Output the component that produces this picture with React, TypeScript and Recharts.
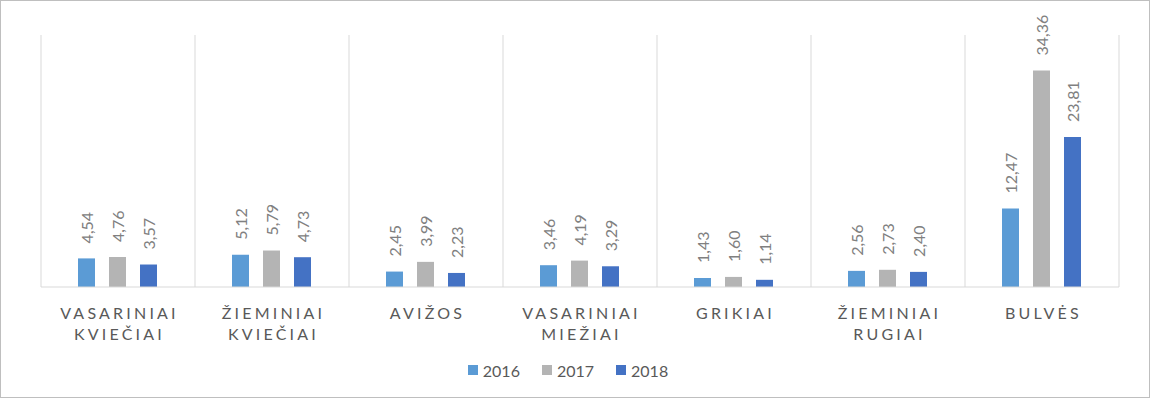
import React from 'react';
import { BarChart, Bar, XAxis, YAxis, CartesianGrid, Legend, LabelList } from 'recharts';

const categories = ['VASARINIAI KVIEČIAI', 'ŽIEMINIAI KVIEČIAI', 'AVIŽOS', 'VASARINIAI MIEŽIAI', 'GRIKIAI', 'ŽIEMINIAI RUGIAI', 'BULVĖS'];
const values2016 = [4.54, 5.12, 2.45, 3.46, 1.43, 2.56, 12.47];
const values2017 = [4.76, 5.79, 3.99, 4.19, 1.6, 2.73, 34.36];
const values2018 = [3.57, 4.73, 2.23, 3.29, 1.14, 2.4, 23.81];
const seriesNames = ['2016', '2017', '2018'];
const seriesColors = ['#5B9BD5', '#B4B4B4', '#4472C4'];

const data = categories.map((c, i) => ({
  name: c,
  s2016: values2016[i],
  s2017: values2017[i],
  s2018: values2018[i],
}));

const FONT = 'Lato, "Open Sans", sans-serif';

const fmt = (v: number) => v.toFixed(2).replace('.', ',');

const RotLabel = (props: any) => {
  const { x, y, width, value } = props;
  const cx = x + width / 2;
  const ty = y - 15;
  return (
    <text
      x={cx}
      y={ty}
      transform={`rotate(-90, ${cx}, ${ty})`}
      textAnchor="start"
      dominantBaseline="central"
      fill="#808080"
      fontSize={16}
      fontFamily={FONT}
    >
      {fmt(value)}
    </text>
  );
};

const Tick = (props: any) => {
  const { x, y, payload } = props;
  const words = String(payload.value).split(' ');
  return (
    <g>
      {words.map((w, i) => (
        <text
          key={i}
          x={x + 1.5}
          y={y + 24 + i * 21}
          textAnchor="middle"
          fill="#595959"
          fontSize={16}
          fontFamily={FONT}
          letterSpacing={3.2}
        >
          {w}
        </text>
      ))}
    </g>
  );
};

const LegendContent = () => (
  <div
    style={{
      display: 'flex',
      justifyContent: 'center',
      alignItems: 'center',
      height: 30,
      paddingRight: 24,
      paddingBottom: 4,
      boxSizing: 'border-box',
      fontFamily: FONT,
      fontSize: 16,
      color: '#595959',
    }}
  >
    {seriesNames.map((n, i) => (
      <div key={n} style={{ display: 'flex', alignItems: 'center', marginRight: i < 2 ? 22 : 0 }}>
        <div style={{ width: 10, height: 10, background: seriesColors[i], marginRight: 5 }} />
        <span>{n}</span>
      </div>
    ))}
  </div>
);

export default function App() {
  return (
    <div
      style={{
        position: 'absolute',
        left: 0,
        top: 0,
        width: 1150,
        height: 398,
        border: '1px solid #BFBFBF',
        boxSizing: 'border-box',
        background: '#fff',
      }}
    >
      <div style={{ position: 'absolute', left: -1, top: -1 }}>
        <BarChart
          width={1150}
          height={399}
          data={data}
          margin={{ top: 35, right: 31, left: 41, bottom: 12 }}
          barCategoryGap={37}
          barGap={14}
        >
          <CartesianGrid
            horizontal={false}
            vertical={true}
            stroke="#D9D9D9"
            verticalCoordinatesGenerator={({ offset }: any) => {
              const n = categories.length;
              return Array.from({ length: n + 1 }, (_, i) => offset.left + (i * offset.width) / n);
            }}
          />
          <XAxis
            dataKey="name"
            height={70}
            tick={<Tick />}
            tickLine={false}
            axisLine={{ stroke: '#D9D9D9' }}
            interval={0}
          />
          <YAxis hide domain={[0, 40]} />
          <Legend verticalAlign="bottom" height={30} content={<LegendContent />} />
          <Bar dataKey="s2016" name="2016" fill={seriesColors[0]} isAnimationActive={false}>
            <LabelList dataKey="s2016" content={<RotLabel />} />
          </Bar>
          <Bar dataKey="s2017" name="2017" fill={seriesColors[1]} isAnimationActive={false}>
            <LabelList dataKey="s2017" content={<RotLabel />} />
          </Bar>
          <Bar dataKey="s2018" name="2018" fill={seriesColors[2]} isAnimationActive={false}>
            <LabelList dataKey="s2018" content={<RotLabel />} />
          </Bar>
        </BarChart>
      </div>
    </div>
  );
}
